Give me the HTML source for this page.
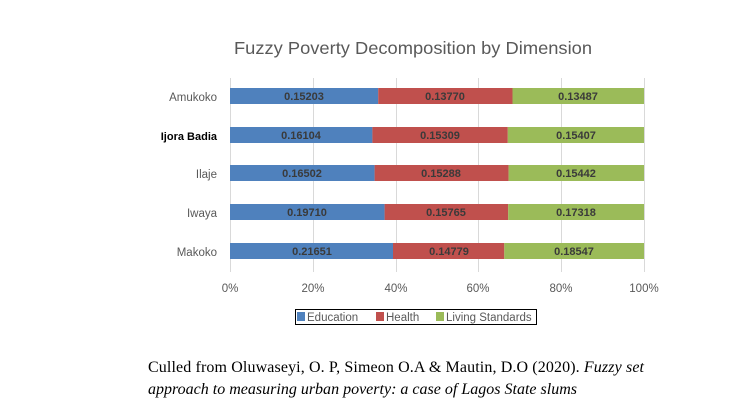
<!DOCTYPE html>
<html><head><style>
body{margin:0;background:#fff;}
</style></head><body>
<svg width="744" height="419" xmlns="http://www.w3.org/2000/svg" style="display:block">
<rect width="744" height="419" fill="#fff"/>
<text x="234" y="54" font-family="Liberation Sans, sans-serif" font-size="17.5" fill="#595959" textLength="358" lengthAdjust="spacingAndGlyphs">Fuzzy Poverty Decomposition by Dimension</text>
<g stroke="#d9d9d9" stroke-width="1">
<line x1="230.5" y1="78" x2="230.5" y2="272"/>
<line x1="313.5" y1="78" x2="313.5" y2="272"/>
<line x1="396.5" y1="78" x2="396.5" y2="272"/>
<line x1="478.5" y1="78" x2="478.5" y2="272"/>
<line x1="561.5" y1="78" x2="561.5" y2="272"/>
<line x1="644.5" y1="78" x2="644.5" y2="272"/>
</g>
<g font-family="Liberation Sans, sans-serif" font-size="11" font-weight="bold" fill="#3a3a3a" text-anchor="middle">
<rect x="230" y="88" width="148.2" height="16" fill="#4F81BD"/><rect x="378.2" y="88" width="134.3" height="16" fill="#C0504D"/><rect x="512.5" y="88" width="131.5" height="16" fill="#9BBB59"/>
<text x="304" y="100">0.15203</text><text x="445" y="100">0.13770</text><text x="578" y="100">0.13487</text>
<rect x="230" y="127" width="142.4" height="16" fill="#4F81BD"/><rect x="372.4" y="127" width="135.4" height="16" fill="#C0504D"/><rect x="507.8" y="127" width="136.2" height="16" fill="#9BBB59"/>
<text x="301" y="139">0.16104</text><text x="440" y="139">0.15309</text><text x="576" y="139">0.15407</text>
<rect x="230" y="165" width="144.6" height="16" fill="#4F81BD"/><rect x="374.6" y="165" width="134" height="16" fill="#C0504D"/><rect x="508.6" y="165" width="135.4" height="16" fill="#9BBB59"/>
<text x="302" y="177">0.16502</text><text x="441" y="177">0.15288</text><text x="576" y="177">0.15442</text>
<rect x="230" y="204" width="154.6" height="16" fill="#4F81BD"/><rect x="384.6" y="204" width="123.6" height="16" fill="#C0504D"/><rect x="508.2" y="204" width="135.8" height="16" fill="#9BBB59"/>
<text x="307" y="216">0.19710</text><text x="446" y="216">0.15765</text><text x="576" y="216">0.17318</text>
<rect x="230" y="243" width="163" height="16" fill="#4F81BD"/><rect x="393" y="243" width="111.3" height="16" fill="#C0504D"/><rect x="504.3" y="243" width="139.7" height="16" fill="#9BBB59"/>
<text x="312" y="255">0.21651</text><text x="449" y="255">0.14779</text><text x="574" y="255">0.18547</text>
</g>
<g font-family="Liberation Sans, sans-serif" font-size="11.5" fill="#595959" text-anchor="end">
<text x="217" y="101">Amukoko</text>
<text x="217" y="140" fill="#000" font-weight="bold" font-size="11">Ijora Badia</text>
<text x="217" y="178">Ilaje</text>
<text x="217" y="217">Iwaya</text>
<text x="217" y="256">Makoko</text>
</g>
<g font-family="Liberation Sans, sans-serif" font-size="11.5" fill="#595959" text-anchor="middle">
<text x="230" y="292">0%</text><text x="313" y="292">20%</text><text x="396" y="292">40%</text><text x="478" y="292">60%</text><text x="561" y="292">80%</text><text x="644" y="292">100%</text>
</g>
<rect x="295.5" y="309.5" width="241" height="15" fill="none" stroke="#000" stroke-width="1"/>
<g font-family="Liberation Sans, sans-serif" font-size="11.5" fill="#595959">
<rect x="297" y="312" width="8" height="9" fill="#4F81BD"/><text x="307" y="321">Education</text>
<rect x="376" y="312" width="8" height="9" fill="#C0504D"/><text x="386" y="321">Health</text>
<rect x="436" y="312" width="8" height="9" fill="#9BBB59"/><text x="446" y="321">Living Standards</text>
</g>
<g font-family="Liberation Serif, serif" font-size="16" fill="#000">
<text x="148" y="372" textLength="496" lengthAdjust="spacing">Culled from  Oluwaseyi, O. P,  Simeon O.A &amp; Mautin, D.O (2020). <tspan font-style="italic">Fuzzy set</tspan></text>
<text x="148" y="394" font-style="italic" textLength="429" lengthAdjust="spacing">approach to measuring urban poverty: a case of Lagos State slums</text>
</g>
</svg>
</body></html>
